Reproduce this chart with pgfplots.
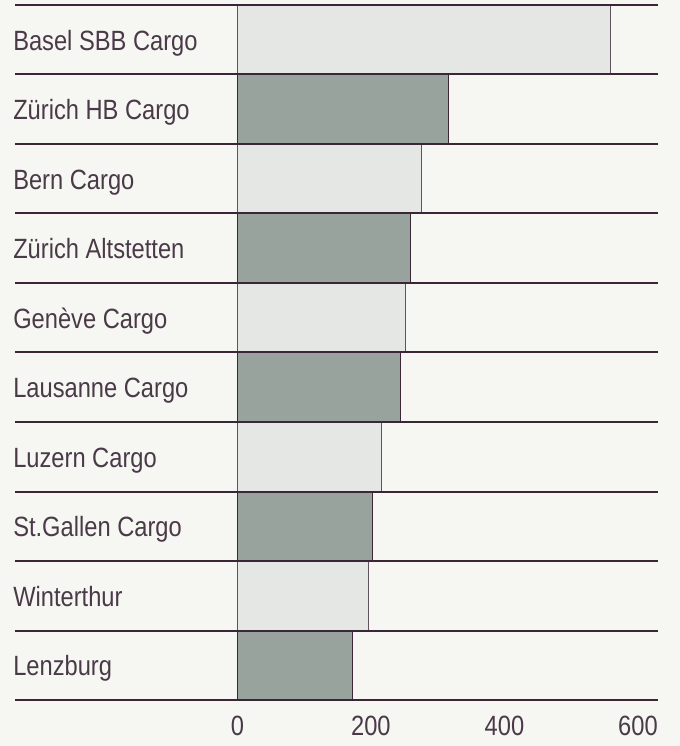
\documentclass[border=0pt]{standalone}
\usepackage{fontspec}
\setmainfont[FakeStretch=0.85]{Liberation Sans}
\usepackage{pgfplots}
\pgfplotsset{compat=1.18}
\definecolor{bg}{HTML}{F6F6F3}
\definecolor{lightbar}{HTML}{E5E7E4}
\definecolor{darkbar}{HTML}{99A39E}
\definecolor{linecol}{HTML}{3A2636}
\definecolor{txt}{HTML}{4A3A48}
\begin{document}
\begin{tikzpicture}
\fill[bg] (0,0) rectangle (510pt,559.5pt);
\begin{axis}[
  at={(11.25pt,34.5pt)}, anchor=south west,
  scale only axis, width=482.25pt, height=521.25pt,
  xbar, bar width=1, bar shift=0pt,
  xmin=-333, xmax=630, ymin=-0.5, ymax=9.5, y dir=reverse,
  xtick={0,200,400,600},
  ytick={0,1,2,3,4,5,6,7,8,9},
  yticklabels={Basel SBB Cargo, Zürich HB Cargo, Bern Cargo, Zürich Altstetten, Genève Cargo, Lausanne Cargo, Luzern Cargo, St.Gallen Cargo, Winterthur, Lenzburg},
  extra y ticks={-0.5,0.5,1.5,2.5,3.5,4.5,5.5,6.5,7.5,8.5,9.5},
  extra y tick labels={},
  extra y tick style={grid=major},
  major grid style={line width=1.5pt, linecol},
  axis line style={draw=none},
  major tick length=0pt,
  tick label style={font=\fontsize{20.9pt}{24pt}\selectfont, text=txt, inner sep=0pt},
  /pgf/number format/assume math mode=true,
  yticklabel style={anchor=base west, xshift=-1.5pt, yshift=-7.9pt},
  xticklabel style={anchor=base, yshift=-26.25pt},
  axis on top,
  clip=false,
]
\addplot[fill=lightbar, draw=linecol!80, line width=0.6pt] coordinates {(559,0) (275,2) (252,4) (216,6) (196,8)};
\addplot[fill=darkbar, draw=linecol, line width=0.8pt] coordinates {(316,1) (259,3) (245,5) (202,7) (172,9)};
\end{axis}
\end{tikzpicture}
\end{document}
